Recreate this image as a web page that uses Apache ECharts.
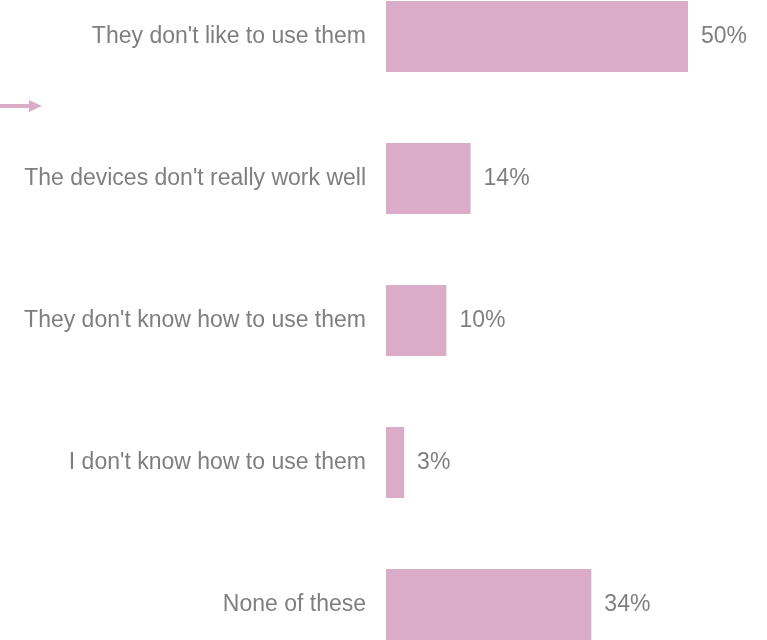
<!DOCTYPE html>
<html>
<head>
<meta charset="utf-8">
<script src="https://cdn.jsdelivr.net/npm/echarts@6/dist/echarts.min.js"></script>
<style>
  html, body { margin: 0; padding: 0; background: #ffffff; }
  #chart { width: 767px; height: 640px; }
</style>
</head>
<body>
<div id="chart"></div>
<script>
// Reasons given, and the share of respondents choosing each
const categories = [
  "They don't like to use them",
  "The devices don't really work well",
  "They don't know how to use them",
  "I don't know how to use them",
  "None of these"
];
const shares = [50, 14, 10, 3, 34];

const barColor = '#dbacc8';
const textColor = '#7f7f7f';
const font = 'Liberation Sans, Arial, Helvetica, sans-serif';

const chart = echarts.init(document.getElementById('chart'), null, { renderer: 'canvas' });

chart.setOption({
  animation: false,
  backgroundColor: '#ffffff',
  grid: {
    left: 386, top: -34.5, width: 604, height: 710,
    outerBoundsMode: 'none',
    containLabel: false
  },
  xAxis: {
    type: 'value',
    min: 0,
    max: 100,
    show: false
  },
  yAxis: {
    type: 'category',
    inverse: true,
    data: categories,
    axisLine: { show: false },
    axisTick: { show: false },
    splitLine: { show: false },
    axisLabel: {
      color: textColor,
      fontSize: 23,
      fontFamily: font,
      margin: 20
    }
  },
  series: [{
    type: 'bar',
    data: shares,
    barWidth: 71,
    itemStyle: { color: barColor },
    label: {
      show: true,
      position: 'right',
      distance: 13,
      color: textColor,
      fontSize: 23,
      fontFamily: font,
      formatter: p => p.value + '%'
    }
  }],
  // small pointer arrow at the left edge
  graphic: [
    {
      type: 'line',
      shape: { x1: 0, y1: 106, x2: 31, y2: 106 },
      style: { stroke: barColor, lineWidth: 4 }
    },
    {
      type: 'polygon',
      shape: { points: [[29, 100], [42, 106], [29, 112]] },
      style: { fill: barColor }
    }
  ]
});
</script>
</body>
</html>
